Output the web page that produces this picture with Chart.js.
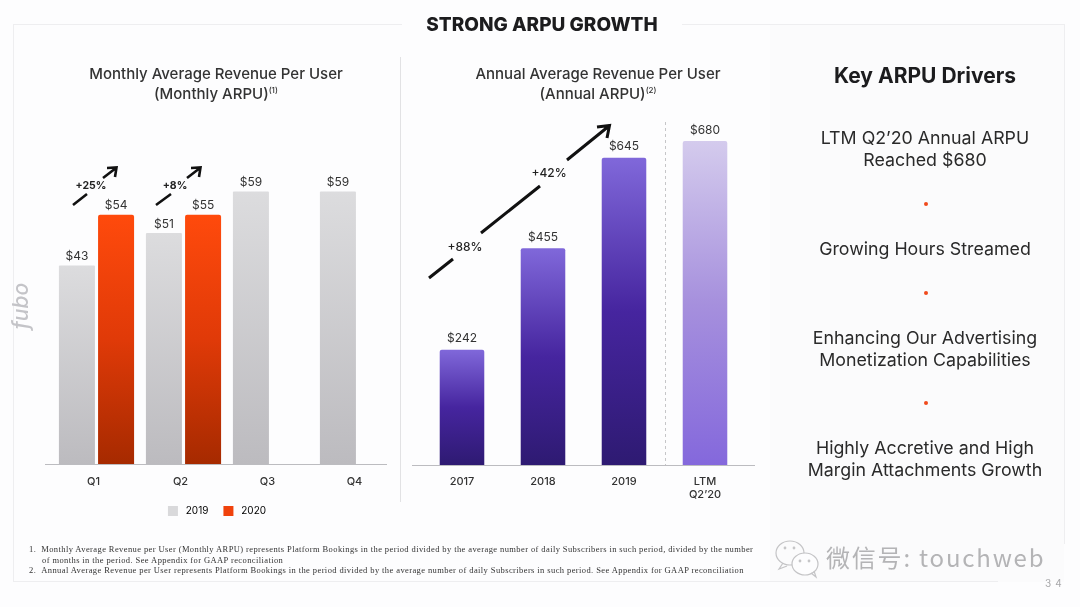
<!DOCTYPE html>
<html>
<head>
<meta charset="utf-8">
<script src="https://cdn.jsdelivr.net/npm/chart.js@4"></script>
<style>
  html, body { margin: 0; padding: 0; }
  body { width: 1080px; height: 607px; overflow: hidden; background: #fdfdfe; position: relative; font-family: Inter, "Noto Sans", sans-serif; color: #222; }
  .page { position: absolute; inset: 0; filter: blur(0.35px); }
  .abs { position: absolute; }
  .panel { left: 770px; top: 25px; width: 294px; height: 557px; background: #fbfbfc; }
  .frame { background: #eeeef0; }
  .center { text-align: center; }
  h1 { margin: 0; left: 402px; width: 280px; top: 13px; font-size: 19px; line-height: 24px; font-weight: 800; text-align: center; color: #1c1c1e; background: #fdfdfe; }
  .sub { font-size: 15px; line-height: 20px; font-weight: 500; color: #333; }
  .sub sup { font-size: 8px; line-height: 0; }
  .driver { left: 785px; width: 280px; font-size: 17.8px; line-height: 22px; font-weight: 400; color: #2a2a2a; text-align: center; white-space: nowrap; }
  .dot { width: 4px; height: 4px; border-radius: 50%; background: #f04a1c; left: 924px; }
  .notes { left: 29px; width: 732px; top: 544px; font-family: "Liberation Serif", serif; font-size: 8.5px; letter-spacing: 0.4px; line-height: 10.5px; color: #333; }
  .notes div { padding-left: 13px; text-indent: -13px; }
  canvas { position: absolute; }
  svg { position: absolute; left: 0; top: 0; }
</style>
</head>
<body>
<div class="page">
  <div class="abs panel"></div>
  <div class="abs frame" style="left:13px;top:24px;width:1052px;height:1px"></div>
  <div class="abs frame" style="left:13px;top:24px;width:1px;height:558px"></div>
  <div class="abs frame" style="left:1064px;top:24px;width:1px;height:520px"></div>
  <div class="abs frame" style="left:13px;top:581px;width:985px;height:1px"></div>
  <div class="abs frame" style="left:400px;top:57px;width:1px;height:445px;background:#e2e2e4"></div>
  <h1 class="abs">STRONG ARPU GROWTH</h1>

  <div class="abs sub center" style="left:40px;width:352px;top:64px">Monthly Average Revenue Per User<br>(Monthly ARPU)<sup>(1)</sup></div>
  <div class="abs sub center" style="left:422px;width:352px;top:64px">Annual Average Revenue Per User<br>(Annual ARPU)<sup>(2)</sup></div>

  <div class="abs" style="left:785px;width:280px;top:62px;font-size:21px;line-height:28px;font-weight:700;text-align:center;color:#1c1c1e">Key ARPU Drivers</div>
  <div class="abs driver" style="top:127px">LTM Q2’20 Annual ARPU<br>Reached $680</div>
  <div class="abs dot" style="top:202px"></div>
  <div class="abs driver" style="top:238px">Growing Hours Streamed</div>
  <div class="abs dot" style="top:291px"></div>
  <div class="abs driver" style="top:327px">Enhancing Our Advertising<br>Monetization Capabilities</div>
  <div class="abs dot" style="top:401px"></div>
  <div class="abs driver" style="top:437px">Highly Accretive and High<br>Margin Attachments Growth</div>

  <div class="abs" style="left:-5px;top:293px;width:52px;text-align:center;transform:rotate(-90deg);font-size:21px;line-height:26px;font-style:italic;color:#c4c4c8;font-weight:500">fubo</div>

  <div class="abs" style="left:45px;top:464px;width:342px;height:1px;background:#bcbcc0"></div>
  <div class="abs" style="left:412px;top:465px;width:343px;height:1px;background:#bcbcc0"></div>

  <canvas id="monthly" class="abs" width="434" height="376" style="left:0;top:150px"></canvas>
  <canvas id="annual" class="abs" width="355" height="390" style="left:400px;top:120px"></canvas>

  <svg width="1080" height="607" fill="none" stroke="#111" stroke-width="3">
    <path d="M73 205 L87 194 M103 178 L116 168 M107 168 L116.5 167.5 L115 177" stroke-width="2.6"/>
    <path d="M156 205 L171 194 M187 178 L200 168 M191 168 L200.5 167.5 L199 177" stroke-width="2.6"/>
    <path d="M429 278 L453 259 M481 233 L540 186 M567 160 L609 126 M597 127 L609.5 125.5 L607 138"/>
    <line x1="665.5" y1="122" x2="665.5" y2="465" stroke="#c6c6c8" stroke-width="1" stroke-dasharray="3 3"/>
  </svg>
  <div class="abs center" style="left:66px;width:50px;top:179px;font-size:10.5px;line-height:14px;font-weight:700">+25%</div>
  <div class="abs center" style="left:150px;width:50px;top:179px;font-size:10.5px;line-height:14px;font-weight:700">+8%</div>
  <div class="abs center" style="left:440px;width:50px;top:239px;font-size:12px;line-height:16px;font-weight:500">+88%</div>
  <div class="abs center" style="left:524px;width:50px;top:165px;font-size:12px;line-height:16px;font-weight:500">+42%</div>

  <div class="abs notes">
    <div>1.&nbsp;&nbsp;Monthly Average Revenue per User (Monthly ARPU) represents Platform Bookings in the period divided by the average number of daily Subscribers in such period, divided by the number of months in the period. See Appendix for GAAP reconciliation</div>
    <div>2.&nbsp;&nbsp;Annual Average Revenue per User represents Platform Bookings in the period divided by the average number of daily Subscribers in such period. See Appendix for GAAP reconciliation</div>
  </div>

  <svg width="1080" height="607" fill="none" stroke="#c4c4c6" stroke-width="1.2">
    <ellipse cx="790" cy="553" rx="14" ry="12"/>
    <ellipse cx="805" cy="564" rx="13" ry="11" fill="#fdfdfe"/>
    <path d="M783 563 L779 569 L787 566 M811 573 L816 577 L814 571"/>
    <circle cx="785" cy="548" r="0.8"/><circle cx="794" cy="548" r="0.8"/>
    <circle cx="800" cy="561" r="0.8"/><circle cx="809" cy="561" r="0.8"/>
  </svg>
  <div class="abs" style="left:826px;top:541px;font-family:'Noto Sans CJK SC','DejaVu Sans',sans-serif;font-size:24px;line-height:32px;color:#b4b4b6;letter-spacing:1.8px;white-space:nowrap">微信号: touchweb</div>
  <div class="abs" style="left:1045px;top:576px;font-size:10px;line-height:14px;color:#a8a8aa;letter-spacing:4px">34</div>
</div>

<script>
// chart data
const quarters = ["Q1", "Q2", "Q3", "Q4"];
const legendNames = ["2019", "2020"];
// bar heights as drawn on the slide (the Q2 bars sit a bit under their printed values)
const monthly2019 = [43, 50, 59, 59];
const monthly2020 = [54, 54, null, null];
const monthlyLabels2019 = ["$43", "$51", "$59", "$59"];
const monthlyLabels2020 = ["$54", "$55", "", ""];

const years = ["2017", "2018", "2019", ["LTM", "Q2’20"]];
const annualValues = [242, 455, 645, 680];
const annualLabels = ["$242", "$455", "$645", "$680"];

const grayStops = ["#dcdcde", "#bcbbbf"];
const orangeStops = ["#ff4a0c", "#e03a08", "#a62a00"];
const purpleStops = ["#8068da", "#46259f", "#2e1a72"];
const lilacStops = ["#d4cbed", "#a690dd", "#8468dc"];

function barGradient(stops, perBar) {
  return function (context) {
    const chart = context.chart;
    const y = chart.scales.y;
    if (!chart.chartArea || !y || context.raw == null) return stops[0];
    const s = typeof perBar === "function" ? perBar(context) : stops;
    const g = chart.ctx.createLinearGradient(0, y.getPixelForValue(context.raw), 0, y.getPixelForValue(0));
    s.forEach((c, i) => g.addColorStop(i / (s.length - 1), c));
    return g;
  };
}

// prints the $ labels over the bars
const barValueLabels = {
  id: "barValueLabels",
  afterDatasetsDraw(chart, args, opts) {
    const ctx = chart.ctx;
    ctx.save();
    ctx.font = opts.font;
    ctx.fillStyle = "#333";
    ctx.textAlign = "center";
    ctx.textBaseline = "middle";
    chart.data.datasets.forEach((ds, i) => {
      chart.getDatasetMeta(i).data.forEach((bar, j) => {
        if (ds.printed[j]) ctx.fillText(ds.printed[j], bar.x, bar.y - opts.gap);
      });
    });
    ctx.restore();
  }
};

function fixedAxisHeight(h) {
  return function (scale) { scale.height = h; };
}

new Chart(document.getElementById("monthly").getContext("2d"), {
  type: "bar",
  plugins: [barValueLabels],
  data: {
    labels: quarters,
    datasets: [
      { label: legendNames[0], data: monthly2019, printed: monthlyLabels2019, backgroundColor: barGradient(grayStops), borderRadius: 1, categoryPercentage: 0.9, barPercentage: 0.92 },
      { label: legendNames[1], data: monthly2020, printed: monthlyLabels2020, backgroundColor: barGradient(orangeStops), borderRadius: 2, categoryPercentage: 0.9, barPercentage: 0.92 }
    ]
  },
  options: {
    responsive: false,
    animation: false,
    layout: { padding: { left: 33, right: 33 } },
    scales: {
      x: {
        grid: { display: false },
        border: { display: false },
        afterFit: fixedAxisHeight(27),
        ticks: { color: "#333", font: { family: "Inter", size: 11, weight: "500" }, labelOffset: -3, padding: 3 }
      },
      // hidden axis, only keeps the legend centred under the whole panel
      y: {
        min: 0, max: 68,
        grid: { display: false },
        border: { display: false },
        ticks: { display: false },
        afterFit(scale) { scale.width = 20; }
      }
    },
    plugins: {
      tooltip: { enabled: false },
      barValueLabels: { font: "400 12px Inter", gap: 9 },
      legend: {
        position: "bottom",
        labels: {
          boxWidth: 10, boxHeight: 10, padding: 15, color: "#555",
          font: { family: "Inter", size: 10 },
          generateLabels() {
            return [
              { text: "\u00a0" + legendNames[0], fillStyle: "#d9d9db", strokeStyle: "transparent", lineWidth: 0 },
              { text: "\u00a0" + legendNames[1], fillStyle: "#f0420c", strokeStyle: "transparent", lineWidth: 0 }
            ];
          }
        }
      }
    }
  }
});

new Chart(document.getElementById("annual").getContext("2d"), {
  type: "bar",
  plugins: [barValueLabels],
  data: {
    labels: years,
    datasets: [{
      label: "Annual ARPU",
      data: annualValues,
      printed: annualLabels,
      backgroundColor: barGradient(purpleStops, c => (c.dataIndex === 3 ? lilacStops : purpleStops)),
      borderRadius: 2,
      categoryPercentage: 1,
      barPercentage: 0.55
    }]
  },
  options: {
    responsive: false,
    animation: false,
    layout: { padding: { left: 21.5, right: 9.5 } },
    scales: {
      x: {
        grid: { display: false },
        border: { display: false },
        afterFit: fixedAxisHeight(45),
        ticks: { color: "#333", font: { family: "Inter", size: 11, weight: "500" }, padding: 2, maxRotation: 0 }
      },
      y: { display: false, min: 0, max: 724 }
    },
    plugins: {
      tooltip: { enabled: false },
      legend: { display: false },
      barValueLabels: { font: "400 12px Inter", gap: 11 }
    }
  }
});
</script>
</div>
</body>
</html>
